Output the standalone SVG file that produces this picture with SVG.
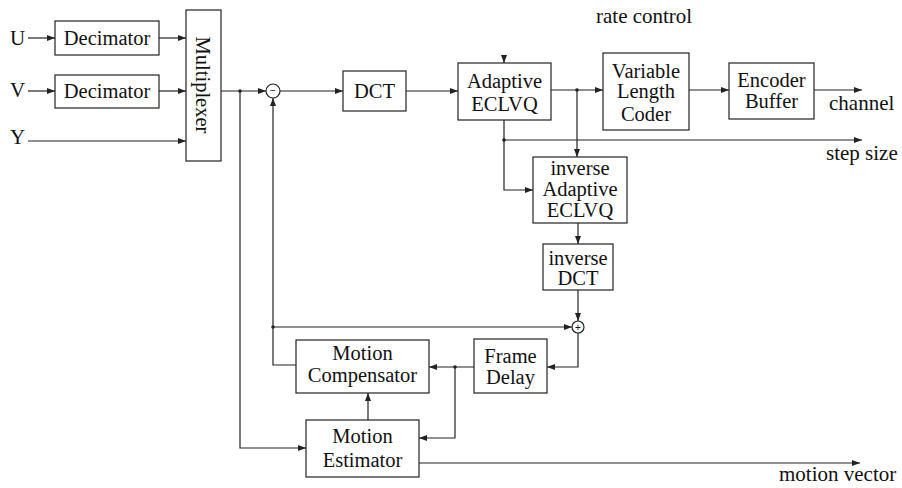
<svg xmlns="http://www.w3.org/2000/svg" width="902" height="488" viewBox="0 0 902 488">
<style>
.box{fill:#fff;stroke:#222;stroke-width:1.2}
.ln{fill:none;stroke:#222;stroke-width:1.2}
.t{font-family:"Liberation Serif","Times New Roman",serif;font-size:20.5px;fill:#111;text-anchor:middle}
.l{font-family:"Liberation Serif","Times New Roman",serif;font-size:21px;fill:#111}
.s{font-family:"Liberation Sans",Arial,sans-serif;font-size:10px;fill:#111;text-anchor:middle}
</style>
<defs>
<marker id="ar" viewBox="0 0 8 8" refX="8" refY="4" markerWidth="8" markerHeight="8" markerUnits="userSpaceOnUse" orient="auto">
<path d="M0,1 L8,4 L0,7 Z" fill="#222"/>
</marker>
</defs>
<rect width="902" height="488" fill="#fff"/>
<g id="labels">
<text class="l" x="10" y="45">U</text>
<text class="l" x="10" y="97">V</text>
<text class="l" x="10" y="144">Y</text>
<text class="l" x="596" y="23">rate control</text>
<text class="l" x="829" y="110">channel</text>
<text class="l" x="826" y="160">step size</text>
<text class="l" x="779" y="481">motion vector</text>
</g>
<g id="dec1"><rect class="box" x="55" y="21" width="104" height="34"/><text class="t" x="107" y="45">Decimator</text></g>
<g id="dec2"><rect class="box" x="55" y="75" width="104" height="33"/><text class="t" x="107" y="98">Decimator</text></g>
<g id="mux"><rect class="box" x="186" y="10" width="35" height="151"/><text class="t" transform="translate(203,85) rotate(90)" x="0" y="7">Multiplexer</text></g>
<g id="sub"><circle class="box" cx="273" cy="91" r="7"/><text class="s" x="273" y="94">−</text></g>
<g id="dct"><rect class="box" x="343" y="71" width="63" height="40"/><text class="t" x="374.5" y="98">DCT</text></g>
<g id="aeclvq"><rect class="box" x="458" y="63" width="93" height="57"/><text class="t" x="504.5" y="88">Adaptive</text><text class="t" x="504.5" y="111">ECLVQ</text></g>
<g id="vlc"><rect class="box" x="603" y="53" width="86" height="77"/><text class="t" x="646" y="78">Variable</text><text class="t" x="646" y="98">Length</text><text class="t" x="646" y="121">Coder</text></g>
<g id="buf"><rect class="box" x="729" y="63" width="85" height="56"/><text class="t" x="771.5" y="87">Encoder</text><text class="t" x="771.5" y="108">Buffer</text></g>
<g id="iaeclvq"><rect class="box" x="533" y="157" width="94" height="66"/><text class="t" x="580" y="175">inverse</text><text class="t" x="580" y="196">Adaptive</text><text class="t" x="580" y="217">ECLVQ</text></g>
<g id="idct"><rect class="box" x="543" y="244" width="70" height="46"/><text class="t" x="578" y="265">inverse</text><text class="t" x="578" y="285">DCT</text></g>
<g id="add"><circle class="box" cx="578" cy="327" r="6"/><text class="s" x="578" y="330.5">+</text></g>
<g id="fd"><rect class="box" x="474" y="339" width="73" height="54"/><text class="t" x="510.5" y="363">Frame</text><text class="t" x="510.5" y="384">Delay</text></g>
<g id="mc"><rect class="box" x="296" y="340" width="133" height="53"/><text class="t" x="362.5" y="360">Motion</text><text class="t" x="362.5" y="382">Compensator</text></g>
<g id="me"><rect class="box" x="306" y="420" width="113" height="57"/><text class="t" x="362.5" y="443">Motion</text><text class="t" x="362.5" y="467">Estimator</text></g>
<g id="connectors">
<path class="ln" marker-end="url(#ar)" d="M28,38 H55"/>
<path class="ln" marker-end="url(#ar)" d="M159,38 H186"/>
<path class="ln" marker-end="url(#ar)" d="M28,91 H55"/>
<path class="ln" marker-end="url(#ar)" d="M159,91 H186"/>
<path class="ln" marker-end="url(#ar)" d="M28,141 H186"/>
<path class="ln" marker-end="url(#ar)" d="M221,91 H266"/>
<path class="ln" marker-end="url(#ar)" d="M280,91 H343"/>
<path class="ln" marker-end="url(#ar)" d="M406,91 H458"/>
<path class="ln" marker-end="url(#ar)" d="M551,90 H603"/>
<path class="ln" marker-end="url(#ar)" d="M577,90 V157"/>
<path class="ln" marker-end="url(#ar)" d="M689,90 H729"/>
<path class="ln" marker-end="url(#ar)" d="M814,90 H862"/>
<path class="ln" marker-end="url(#ar)" d="M504,56 V63"/>
<path class="ln" marker-end="url(#ar)" d="M504,120 V190 H533"/>
<path class="ln" marker-end="url(#ar)" d="M504,140 H862"/>
<path class="ln" marker-end="url(#ar)" d="M578,223 V244"/>
<path class="ln" marker-end="url(#ar)" d="M578,290 V321"/>
<path class="ln" marker-end="url(#ar)" d="M273,327 H572"/>
<path class="ln" marker-end="url(#ar)" d="M578,333 V367 H547"/>
<path class="ln" marker-end="url(#ar)" d="M474,367 H429"/>
<path class="ln" marker-end="url(#ar)" d="M455,367 V438 H419"/>
<path class="ln" marker-end="url(#ar)" d="M368,420 V393"/>
<path class="ln" marker-end="url(#ar)" d="M296,365 H273 V98"/>
<path class="ln" marker-end="url(#ar)" d="M240,91 V448 H306"/>
<path class="ln" marker-end="url(#ar)" d="M419,463 H860"/>
<g fill="#222">
<circle cx="240" cy="91" r="1.8"/>
<circle cx="577" cy="90" r="1.8"/>
<circle cx="504" cy="140" r="1.8"/>
<circle cx="273" cy="327" r="1.8"/>
<circle cx="455" cy="367" r="1.8"/>
</g>
</g>
</svg>
